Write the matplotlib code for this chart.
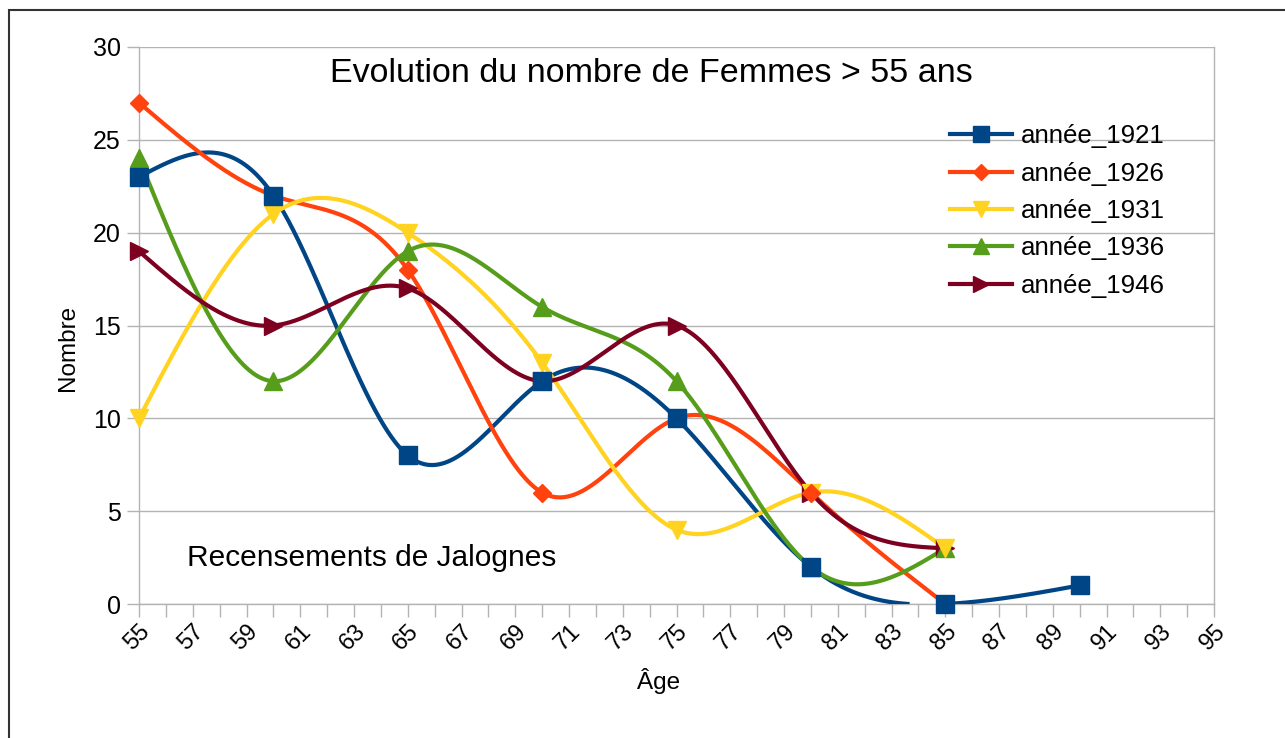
import numpy as np
import matplotlib
matplotlib.use("Agg")
import matplotlib.pyplot as plt
from matplotlib.patches import Rectangle

plt.rcParams['font.family'] = ['Liberation Sans', 'DejaVu Sans']

# Données des recensements (âge -> nombre de femmes)
ages = [55, 60, 65, 70, 75, 80, 85, 90]
annee_1921 = [23, 22, 8, 12, 10, 2, 0, 1]
annee_1926 = [27, 22, 18, 6, 10, 6, 0]
annee_1931 = [10, 21, 20, 13, 4, 6, 3]
annee_1936 = [24, 12, 19, 16, 12, 2, 3]
annee_1946 = [19, 15, 17, 12, 15, 6, 3]

series = [
    ("année_1921", annee_1921, "#004586", "s", 13),
    ("année_1926", annee_1926, "#ff420e", "D", 9),
    ("année_1931", annee_1931, "#ffd320", "v", 13),
    ("année_1936", annee_1936, "#579d1c", "^", 13),
    ("année_1946", annee_1946, "#7e0021", ">", 13),
]


def spline_naturelle(x, y, n=1500):
    # spline cubique naturelle, comme le lissage du tableur
    x = np.asarray(x, float)
    y = np.asarray(y, float)
    k = len(x)
    h = np.diff(x)
    A = np.zeros((k, k))
    b = np.zeros(k)
    A[0, 0] = A[-1, -1] = 1
    for i in range(1, k - 1):
        A[i, i - 1] = h[i - 1]
        A[i, i] = 2 * (h[i - 1] + h[i])
        A[i, i + 1] = h[i]
        b[i] = 6 * ((y[i + 1] - y[i]) / h[i] - (y[i] - y[i - 1]) / h[i - 1])
    M = np.linalg.solve(A, b)
    xs = np.linspace(x[0], x[-1], n)
    idx = np.clip(np.searchsorted(x, xs) - 1, 0, k - 2)
    x0, x1 = x[idx], x[idx + 1]
    hh = x1 - x0
    t0, t1 = x1 - xs, xs - x0
    ys = (M[idx] * t0 ** 3 / (6 * hh) + M[idx + 1] * t1 ** 3 / (6 * hh)
          + (y[idx] / hh - M[idx] * hh / 6) * t0
          + (y[idx + 1] / hh - M[idx + 1] * hh / 6) * t1)
    # le tableur coupe la courbe elle-même sous l'axe
    ys[ys < -0.005] = np.nan
    return xs, ys


fig = plt.figure(figsize=(12.85, 7.38), dpi=100)
ax = fig.add_axes([139 / 1285, 1 - 604 / 738, (1214 - 139) / 1285, (604 - 47) / 738])

handles = []
for i, (nom, vals, couleur, marq, ms) in enumerate(series):
    x = ages[:len(vals)]
    xs, ys = spline_naturelle(x, vals)
    ax.plot(xs, ys, color=couleur, lw=3, solid_capstyle='butt', zorder=3)
    # les marqueurs de la première série passent devant
    ax.plot(x, vals, ls='none', marker=marq, color=couleur, ms=ms,
            clip_on=False, zorder=10 - i)
    h, = ax.plot([], [], color=couleur, lw=3, marker=marq, ms=ms * 0.9)
    handles.append(h)

ax.set_xlim(55, 95)
ax.set_ylim(0, 30)
ax.set_xticks(np.arange(55, 96, 2))
ax.set_xticks(np.arange(55, 96, 1), minor=True)
ax.set_yticks(np.arange(0, 31, 5))
ax.tick_params(axis='x', which='both', length=9, width=1, color='#b3b3b3',
               labelsize=17, pad=3)
ax.tick_params(axis='y', length=9, width=1, color='#b3b3b3', labelsize=18, pad=4)
for lab in ax.get_xticklabels():
    lab.set_rotation(45)
    lab.set_ha('right')
    lab.set_va('top')
    lab.set_rotation_mode('anchor')

ax.grid(axis='y', color='#b3b3b3', lw=1)
ax.set_axisbelow(True)
ax.spines['top'].set_visible(False)
for s in ['left', 'right', 'bottom']:
    ax.spines[s].set_color('#b3b3b3')
    ax.spines[s].set_linewidth(1)

ax.set_ylabel('Nombre', fontsize=17.5)
ax.set_xlabel('Âge', fontsize=17.5)
ax.yaxis.set_label_coords(-0.056, 0.46)
ax.xaxis.set_label_coords(0.483, -0.115)

ax.text(0.477, 0.952, 'Evolution du nombre de Femmes > 55 ans', transform=ax.transAxes,
        ha='center', va='center', fontsize=24.5)
ax.text(0.045, 0.082, 'Recensements de Jalognes', transform=ax.transAxes,
        ha='left', va='center', fontsize=21.5)

ax.legend(handles, [s[0] for s in series], loc='upper left',
          bbox_to_anchor=(0.745, 0.88), frameon=False, fontsize=18.6,
          handlelength=2.4, handletextpad=0.35, labelspacing=0.52,
          borderaxespad=0)

# cadre extérieur
fig.patches.append(Rectangle((9 / 1285, -0.1), 1.2, 1 - 10 / 738 + 0.1,
                             transform=fig.transFigure, fill=False,
                             edgecolor='#333333', lw=1.5))

fig.savefig('out.png', dpi=100)
